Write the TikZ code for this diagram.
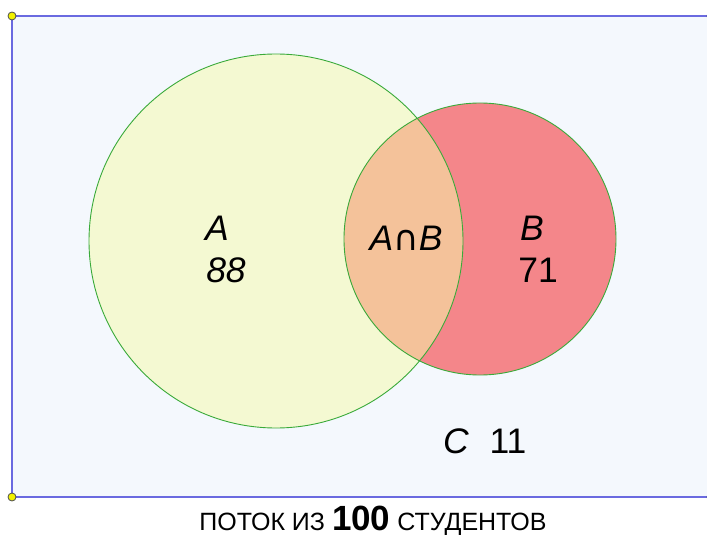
\documentclass[tikz,border=0pt]{standalone}
\usepackage{fontspec}
\setmainfont{Liberation Sans}
\newfontfamily\symfont{DejaVu Sans}
\definecolor{bgfill}{HTML}{F4F8FD}
\definecolor{frameblue}{HTML}{6A6AE0}
\definecolor{afill}{HTML}{F4F9D2}
\definecolor{bfill}{HTML}{F4868A}
\definecolor{abfill}{HTML}{F4C29A}
\definecolor{ringgreen}{HTML}{3AAA3A}
\definecolor{dotyellow}{HTML}{F2F200}
\tikzset{
  ring/.style={draw=ringgreen, line width=0.9pt},
  lbl/.style={font=\fontsize{35.5}{38}\selectfont, inner sep=0pt, text=black},
  dot/.style={circle, fill=dotyellow, draw=black!70, line width=0.8pt, minimum size=8pt, inner sep=0pt},
}
\begin{document}
\begin{tikzpicture}[x=1pt,y=-1pt]
\useasboundingbox (0,0) rectangle (707,537);
\clip (0,0) rectangle (707,537);
\draw[fill=bgfill, draw=frameblue, line width=1.6pt] (12,16) rectangle (711,497);
\coordinate (ca) at (276,241);
\coordinate (cb) at (480,239);
\fill[afill] (ca) circle (187);
\fill[bfill] (cb) circle (136);
\begin{scope}
  \clip (ca) circle (187);
  \fill[abfill] (cb) circle (136);
\end{scope}
\draw[ring] (ca) circle (187);
\draw[ring] (cb) circle (136);
\node[dot] (d1) at (12,16) {};
\node[dot] (d2) at (12,497) {};
\node[dot] (d3) at (711,16) {};
\node[dot] (d4) at (711,497) {};
\node[lbl] (la) at (217,228) {\itshape A};
\node[lbl] (na) at (226,270) {\itshape 88};
\node[lbl] (lab) at (406,238) {\itshape A{\symfont\fontsize{35}{38}\selectfont\upshape ∩}B};
\node[lbl] (lb) at (532,228) {\itshape B};
\node[lbl] (nb) at (538,270) {71};
\node[lbl] (lc) at (456,441) {\itshape C};
\node[lbl] (nc) at (508,441) {11};
\node[anchor=base, inner sep=0pt] (cap) at (373,530) {\fontsize{25}{28}\selectfont ПОТОК ИЗ {\fontsize{35}{36}\selectfont\bfseries 100} СТУДЕНТОВ};
\end{tikzpicture}
\end{document}
